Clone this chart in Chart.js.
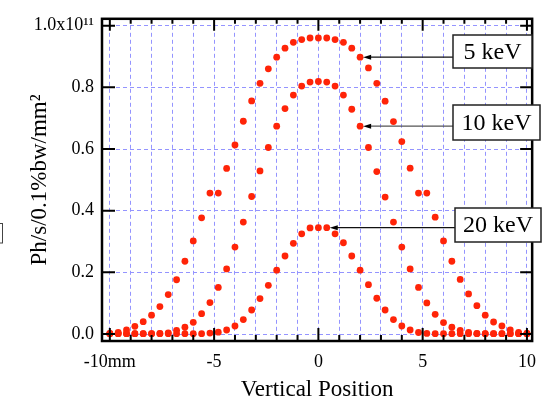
<!DOCTYPE html>
<html><head><meta charset="utf-8">
<script src="https://cdn.jsdelivr.net/npm/chart.js@4.4.0/dist/chart.umd.min.js"></script>
<style>html,body{margin:0;padding:0;background:#fff;}#wrap{width:546px;height:401px;position:relative;}</style>
</head><body><div id="wrap"><canvas id="c" width="546" height="401"></canvas></div>
<script>
// Vertical position (mm)
const positions = [-10,-9.6,-9.2,-8.8,-8.4,-8,-7.6,-7.2,-6.8,-6.4,-6,-5.6,-5.2,-4.8,-4.4,-4,-3.6,-3.2,-2.8,-2.4,-2,-1.6,-1.2,-0.8,-0.4,0,0.4,0.8,1.2,1.6,2,2.4,2.8,3.2,3.6,4,4.4,4.8,5.2,5.6,6,6.4,6.8,7.2,7.6,8,8.4,8.8,9.2,9.6,10];
// Flux in units of 1e11 Ph/s/0.1%bw/mm^2
const flux5keV = [0.002,0.005,0.013,0.025,0.040,0.061,0.089,0.128,0.176,0.236,0.302,0.377,0.457,0.457,0.537,0.613,0.690,0.756,0.813,0.860,0.898,0.927,0.946,0.955,0.960,0.960,0.960,0.955,0.946,0.927,0.898,0.863,0.813,0.755,0.689,0.624,0.538,0.457,0.457,0.379,0.302,0.236,0.177,0.130,0.092,0.061,0.039,0.026,0.013,0.005,0.002];
const flux10keV = [0.001,0.001,0.001,0.001,0.001,0.001,0.002,0.004,0.012,0.022,0.038,0.066,0.102,0.151,0.211,0.282,0.363,0.446,0.529,0.605,0.674,0.731,0.775,0.804,0.817,0.819,0.817,0.804,0.775,0.729,0.674,0.605,0.527,0.444,0.363,0.282,0.211,0.151,0.101,0.064,0.037,0.022,0.012,0.005,0.002,0.001,0.001,0.001,0.001,0.001,0.001];
const flux20keV = [0.001,0.001,0.001,0.001,0.001,0.001,0.001,0.001,0.001,0.001,0.001,0.001,0.003,0.006,0.013,0.026,0.047,0.078,0.115,0.158,0.207,0.253,0.294,0.325,0.344,0.345,0.345,0.325,0.296,0.253,0.207,0.160,0.116,0.078,0.047,0.026,0.013,0.005,0.002,0.001,0.001,0.001,0.001,0.001,0.001,0.001,0.001,0.001,0.001,0.001,0.001];
const seriesNames = ['5 keV','10 keV','20 keV'];
const xTickValues = [-10,-9,-8,-7,-6,-5,-4,-3,-2,-1,0,1,2,3,4,5,6,7,8,9,10];
const xLabeledTicks = [-10,-5,0,5,10];
const xTickLabels = ['-10mm','-5','0','5','10'];
const yTickValues = [0,0.2,0.4,0.6,0.8,1.0];
const yTickLabels = ['0.0','0.2','0.4','0.6','0.8','1.0x10\u00B9\u00B9'];
// index of the point each label arrow points to
const arrowTargetIndex = [30,30,26];

const SERIF = "'Liberation Serif','Times New Roman',serif";
const allSeries = [flux5keV, flux10keV, flux20keV];

const annot = {
  id:'annot',
  afterDraw(chart){
    const {ctx, chartArea:a, scales:{x,y}} = chart;
    ctx.save();
    // frame
    ctx.strokeStyle='#000'; ctx.lineWidth=2.5; ctx.setLineDash([]);
    ctx.strokeRect(a.left,a.top,a.right-a.left,a.bottom-a.top);
    ctx.lineWidth=2;
    ctx.beginPath();
    xTickValues.forEach(v=>{
      const px=x.getPixelForValue(v);
      const major=xLabeledTicks.includes(v);
      ctx.moveTo(px,a.bottom); ctx.lineTo(px,a.bottom-(major?13:6));
      ctx.moveTo(px,a.top); ctx.lineTo(px,a.top+(major?12:5));
    });
    yTickValues.forEach(v=>{
      const py=y.getPixelForValue(v);
      ctx.moveTo(a.left,py); ctx.lineTo(a.left+13,py);
      ctx.moveTo(a.right,py); ctx.lineTo(a.right-12,py);
    });
    ctx.stroke();
    // label boxes with arrows
    const boxes=[{l:453,t:35,w:79,h:33,c:'#111'},{l:453,t:105,w:87,h:35,c:'#555'},{l:455,t:208,w:86,h:34,c:'#111'}];
    boxes.forEach((b,i)=>{
      const idx=arrowTargetIndex[i];
      const px=x.getPixelForValue(positions[idx]);
      const py=y.getPixelForValue(allSeries[i][idx]);
      ctx.strokeStyle=b.c; ctx.lineWidth=1.2;
      ctx.beginPath(); ctx.moveTo(b.l,py); ctx.lineTo(px+10,py); ctx.stroke();
      ctx.fillStyle='#000';
      ctx.beginPath(); ctx.moveTo(px+3,py); ctx.lineTo(px+11,py-2.5); ctx.lineTo(px+11,py+2.5); ctx.closePath(); ctx.fill();
      ctx.fillStyle='#fff'; ctx.fillRect(b.l,b.t,b.w,b.h);
      ctx.strokeStyle='#222'; ctx.lineWidth=1.5; ctx.strokeRect(b.l,b.t,b.w,b.h);
      ctx.fillStyle='#000'; ctx.font='24px '+SERIF; ctx.textAlign='center'; ctx.textBaseline='middle';
      ctx.fillText(seriesNames[i], b.l+b.w/2, b.t+b.h/2+1);
    });
    // clipped box at left edge
    ctx.strokeStyle='#444'; ctx.lineWidth=1;
    ctx.strokeRect(-5,223.5,7.5,19.5);
    ctx.restore();
  }
};

const mk = (arr)=>positions.map((p,i)=>({x:p,y:arr[i]}));
const ds = allSeries.map((arr,i)=>({label:seriesNames[i],data:mk(arr),showLine:false,pointRadius:3.4,pointHoverRadius:3.4,pointBackgroundColor:'#ff2408',pointBorderWidth:0,borderColor:'#ff2408'}));

new Chart(document.getElementById('c'),{
  type:'scatter',
  data:{datasets:ds},
  options:{
    responsive:false, animation:false, devicePixelRatio:1,
    layout:{padding:{left:0,top:13,right:5,bottom:0}},
    plugins:{legend:{display:false},tooltip:{enabled:false}},
    scales:{
      x:{type:'linear',min:-10.376,max:10.25,
        afterBuildTicks:s=>{s.ticks=xTickValues.map(v=>({value:v}));},
        afterFit:s=>{s.height=60;},
        grid:{color:'#9494ff',lineWidth:1,drawTicks:false},
        border:{display:false,dash:[4,3]},
        ticks:{autoSkip:false,maxRotation:0,padding:10,color:'#000',font:{family:SERIF,size:18},
          callback:v=>{const k=xLabeledTicks.indexOf(v);return k<0?'':xTickLabels[k];}},
        title:{display:true,text:'Vertical Position',color:'#000',font:{family:SERIF,size:23,lineHeight:1},padding:{top:0,bottom:0}}
      },
      y:{type:'linear',min:-0.0226,max:1.0223,
        afterBuildTicks:s=>{s.ticks=yTickValues.map(v=>({value:v}));},
        afterFit:s=>{s.width=102;},
        grid:{color:'#9494ff',lineWidth:1,drawTicks:false},
        border:{display:false,dash:[4,3]},
        ticks:{autoSkip:false,padding:8,color:'#000',font:{family:SERIF,size:18},
          callback:v=>{const k=yTickValues.findIndex(t=>Math.abs(t-v)<1e-9);return k<0?'':yTickLabels[k];}},
        title:{display:true,text:'Ph/s/0.1%bw/mm\u00B2',color:'#000',font:{family:SERIF,size:23,lineHeight:1},padding:{top:28,bottom:0}}
      }
    }
  },
  plugins:[annot]
});
</script></body></html>
